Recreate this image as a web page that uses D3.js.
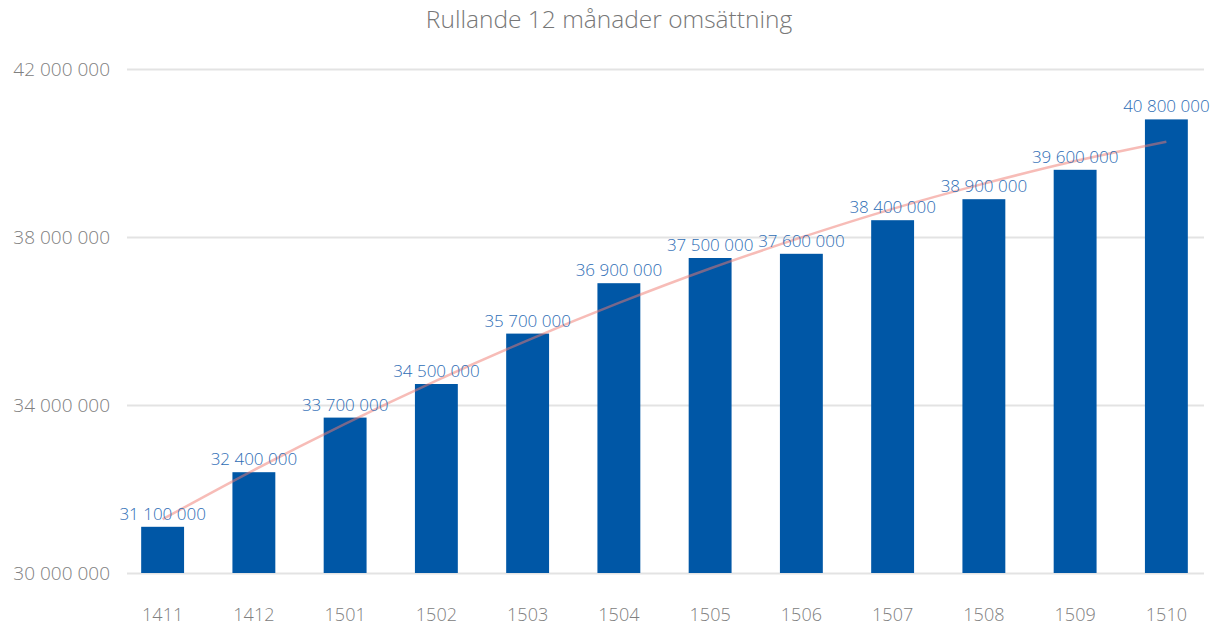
<!DOCTYPE html>
<html>
<head>
  <meta charset="utf-8">
  <title>Rullande 12 månader omsättning</title>
  <script src="https://cdnjs.cloudflare.com/ajax/libs/d3/7.8.5/d3.min.js"></script>
  <style>
    html, body { margin: 0; padding: 0; background: #fff; }
    svg text { font-family: "Open Sans", Lato, sans-serif; }
  </style>
</head>
<body>
  <svg id="chart" width="1221" height="625"></svg>
  <script>
    // data
    const months = ['1411', '1412', '1501', '1502', '1503', '1504', '1505', '1506', '1507', '1508', '1509', '1510']
    const sales = [31100000, 32400000, 33700000, 34500000, 35700000, 36900000, 37500000, 37600000, 38400000, 38900000, 39600000, 40800000]
    const trend = [31280000, 32450000, 33550000, 34580000, 35540000, 36430000, 37250000, 37990000, 38670000, 39270000, 39810000, 40270000]
    const yTicks = [30000000, 34000000, 38000000, 42000000]

    const svg = d3.select('#chart')

    const x = d3.scaleBand().domain(months).range([117, 1212]).paddingInner(0.53).paddingOuter(0.265)
    const y = d3.scaleLinear().domain([30000000, 42000000]).range([573, 69])

    const fmt = v => d3.format(',')(v).replace(/,/g, ' ')

    // title
    svg.append('text')
      .attr('x', 609).attr('y', 28)
      .attr('text-anchor', 'middle')
      .attr('font-size', 24.5)
      .attr('font-weight', 300)
      .attr('fill', '#777')
      .text('Rullande 12 månader omsättning')

    // gridlines + y labels
    const yAxis = d3.axisLeft(y).tickValues(yTicks).tickSize(-(1204 - 127)).tickFormat(fmt).tickPadding(17)
    const gy = svg.append('g').attr('transform', 'translate(127,0)').call(yAxis)
    gy.select('.domain').remove()
    gy.selectAll('line').attr('stroke', '#e3e3e3').attr('stroke-width', 2)
    gy.selectAll('text').attr('fill', '#808080').attr('font-size', 19).attr('font-weight', 300)

    // x labels
    const xAxis = d3.axisBottom(x).tickSize(0).tickPadding(0)
    const gx = svg.append('g').attr('transform', 'translate(0,608)').call(xAxis)
    gx.select('.domain').remove()
    gx.selectAll('text').attr('fill', '#808080').attr('font-size', 18).attr('font-weight', 300)

    // bars
    svg.append('g').selectAll('rect')
      .data(sales)
      .join('rect')
      .attr('x', (d, i) => x(months[i]))
      .attr('y', d => y(d))
      .attr('width', x.bandwidth())
      .attr('height', d => y(30000000) - y(d))
      .attr('fill', '#0057a6')

    // trend line
    const line = d3.line()
      .x((d, i) => x(months[i]) + x.bandwidth() / 2)
      .y(d => y(d))
      .curve(d3.curveMonotoneX)

    svg.append('path')
      .datum(trend)
      .attr('d', line)
      .attr('fill', 'none')
      .attr('stroke', '#f07a70')
      .attr('stroke-opacity', 0.5)
      .attr('stroke-width', 2.5)

    // value labels
    svg.append('g').selectAll('text')
      .data(sales)
      .join('text')
      .attr('x', (d, i) => x(months[i]) + x.bandwidth() / 2)
      .attr('y', d => y(d) - 7)
      .attr('text-anchor', 'middle')
      .attr('font-size', 17)
      .attr('font-weight', 300)
      .attr('fill', '#2e6db5')
      .text(fmt)
  </script>
</body>
</html>
